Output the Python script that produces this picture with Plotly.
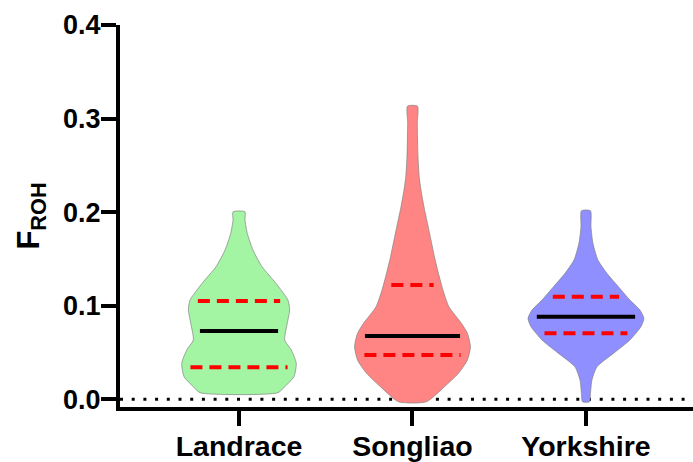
import numpy as np
import plotly.graph_objects as go

# ---- data ----
categories = ["Landrace", "Songliao", "Yorkshire"]

# density profiles: F_ROH level and relative density (1.0 = widest violin)
landrace_y = [0.0071, 0.0135, 0.0241, 0.0385, 0.0527, 0.0634, 0.0812, 0.0956, 0.106,
              0.1239, 0.1417, 0.1595, 0.1773, 0.1916, 0.2004]
landrace_d = [0.672, 0.788, 0.948, 0.988, 0.902, 0.788, 0.833, 0.874, 0.845,
              0.638, 0.397, 0.241, 0.143, 0.103, 0.103]

songliao_y = [-0.0026, 0.0135, 0.0278, 0.042, 0.0562, 0.0705, 0.0812, 0.0989, 0.1168,
              0.1346, 0.1523, 0.1702, 0.188, 0.2058, 0.2236, 0.2378, 0.2592, 0.2949, 0.3133]
songliao_d = [0.241, 0.552, 0.793, 0.948, 1.0, 0.948, 0.845, 0.629, 0.526,
              0.448, 0.379, 0.319, 0.259, 0.198, 0.147, 0.116, 0.095, 0.083, 0.086]

yorkshire_y = [-0.0026, 0.0064, 0.0206, 0.0348, 0.0491, 0.0634, 0.0776, 0.0865, 0.0954,
               0.1061, 0.1203, 0.1346, 0.1488, 0.1667, 0.1844, 0.2015]
yorkshire_d = [0.060, 0.078, 0.103, 0.190, 0.474, 0.759, 0.948, 1.0, 0.931,
               0.759, 0.560, 0.362, 0.207, 0.121, 0.086, 0.078]

# quartiles (Q1, median, Q3)
q1_values = [0.0342, 0.0473, 0.0705]
median_values = [0.073, 0.0676, 0.0883]
q3_values = [0.105, 0.1221, 0.1096]

y_tick_values = [0.0, 0.1, 0.2, 0.3, 0.4]
y_tick_labels = ["0.0", "0.1", "0.2", "0.3", "0.4"]

# ---- styles ----
fills = ["#A3F5A3", "#FF8585", "#8F8FFF"]
HALF_WIDTH = 0.334      # x-units for relative density 1.0
INSET = 0.046           # quartile lines are slightly narrower than the violin
FONT = "Liberation Sans"

profiles = [(landrace_y, landrace_d), (songliao_y, songliao_d), (yorkshire_y, yorkshire_d)]

fig = go.Figure()

for i, (ys, ds) in enumerate(profiles):
    ys = np.asarray(ys)
    ds = np.asarray(ds)
    xl = i - ds * HALF_WIDTH
    xr = i + ds * HALF_WIDTH
    xs = np.concatenate([xl, xr[::-1], xl[:1]])
    yy = np.concatenate([ys, ys[::-1], ys[:1]])
    fig.add_trace(go.Scatter(
        x=xs, y=yy, mode="lines", fill="toself", fillcolor=fills[i],
        line=dict(color="rgba(130,130,130,0.7)", width=1, shape="spline", smoothing=0.6),
        hoverinfo="skip", showlegend=False))

    def halfw(q):
        return float(np.interp(q, ys, ds)) * HALF_WIDTH - INSET

    for q, col, dash in [(q1_values[i], "#FF0000", "12px,7px"),
                         (q3_values[i], "#FF0000", "12px,7px"),
                         (median_values[i], "#000000", "solid")]:
        w = halfw(q)
        fig.add_trace(go.Scatter(
            x=[i - w, i + w], y=[q, q], mode="lines",
            line=dict(color=col, width=4, dash=dash),
            hoverinfo="skip", showlegend=False))

# dotted reference line at zero
fig.add_shape(type="line", xref="paper", x0=0, x1=1, yref="y", y0=0, y1=0,
              line=dict(color="black", width=3, dash="3px,8.7px"), layer="below")

fig.update_layout(
    width=693, height=462,
    margin=dict(l=120, r=0, t=25, b=55, pad=0, autoexpand=False),
    paper_bgcolor="white", plot_bgcolor="white",
    font=dict(family=FONT, color="black"),
    xaxis=dict(
        range=[-0.686, 2.617], tickmode="array", tickvals=[0, 1, 2], ticktext=categories,
        showgrid=False, zeroline=False, showline=True, linecolor="black", linewidth=4,
        ticks="outside", ticklen=15, tickwidth=3.5, tickcolor="black", automargin=False,
        ticklabelstandoff=-4,
        tickfont=dict(family=FONT, size=28.5, color="black", weight=700),
    ),
    yaxis=dict(
        range=[-0.0082, 0.4], tickmode="array", tickvals=y_tick_values, ticktext=y_tick_labels,
        showgrid=False, zeroline=False, showline=True, linecolor="black", linewidth=4,
        ticks="outside", ticklen=15, tickwidth=3.5, tickcolor="black", automargin=False,
        ticklabelstandoff=-5,
        tickfont=dict(family=FONT, size=27, color="black", weight=700),
        title=dict(text="F<sub>ROH</sub>", standoff=15,
                   font=dict(family=FONT, size=31, color="black", weight=700)),
    ),
)

fig.write_html("out.html", config={"displayModeBar": False},
               post_script="document.body.style.margin='0px';document.body.style.overflow='hidden';")
